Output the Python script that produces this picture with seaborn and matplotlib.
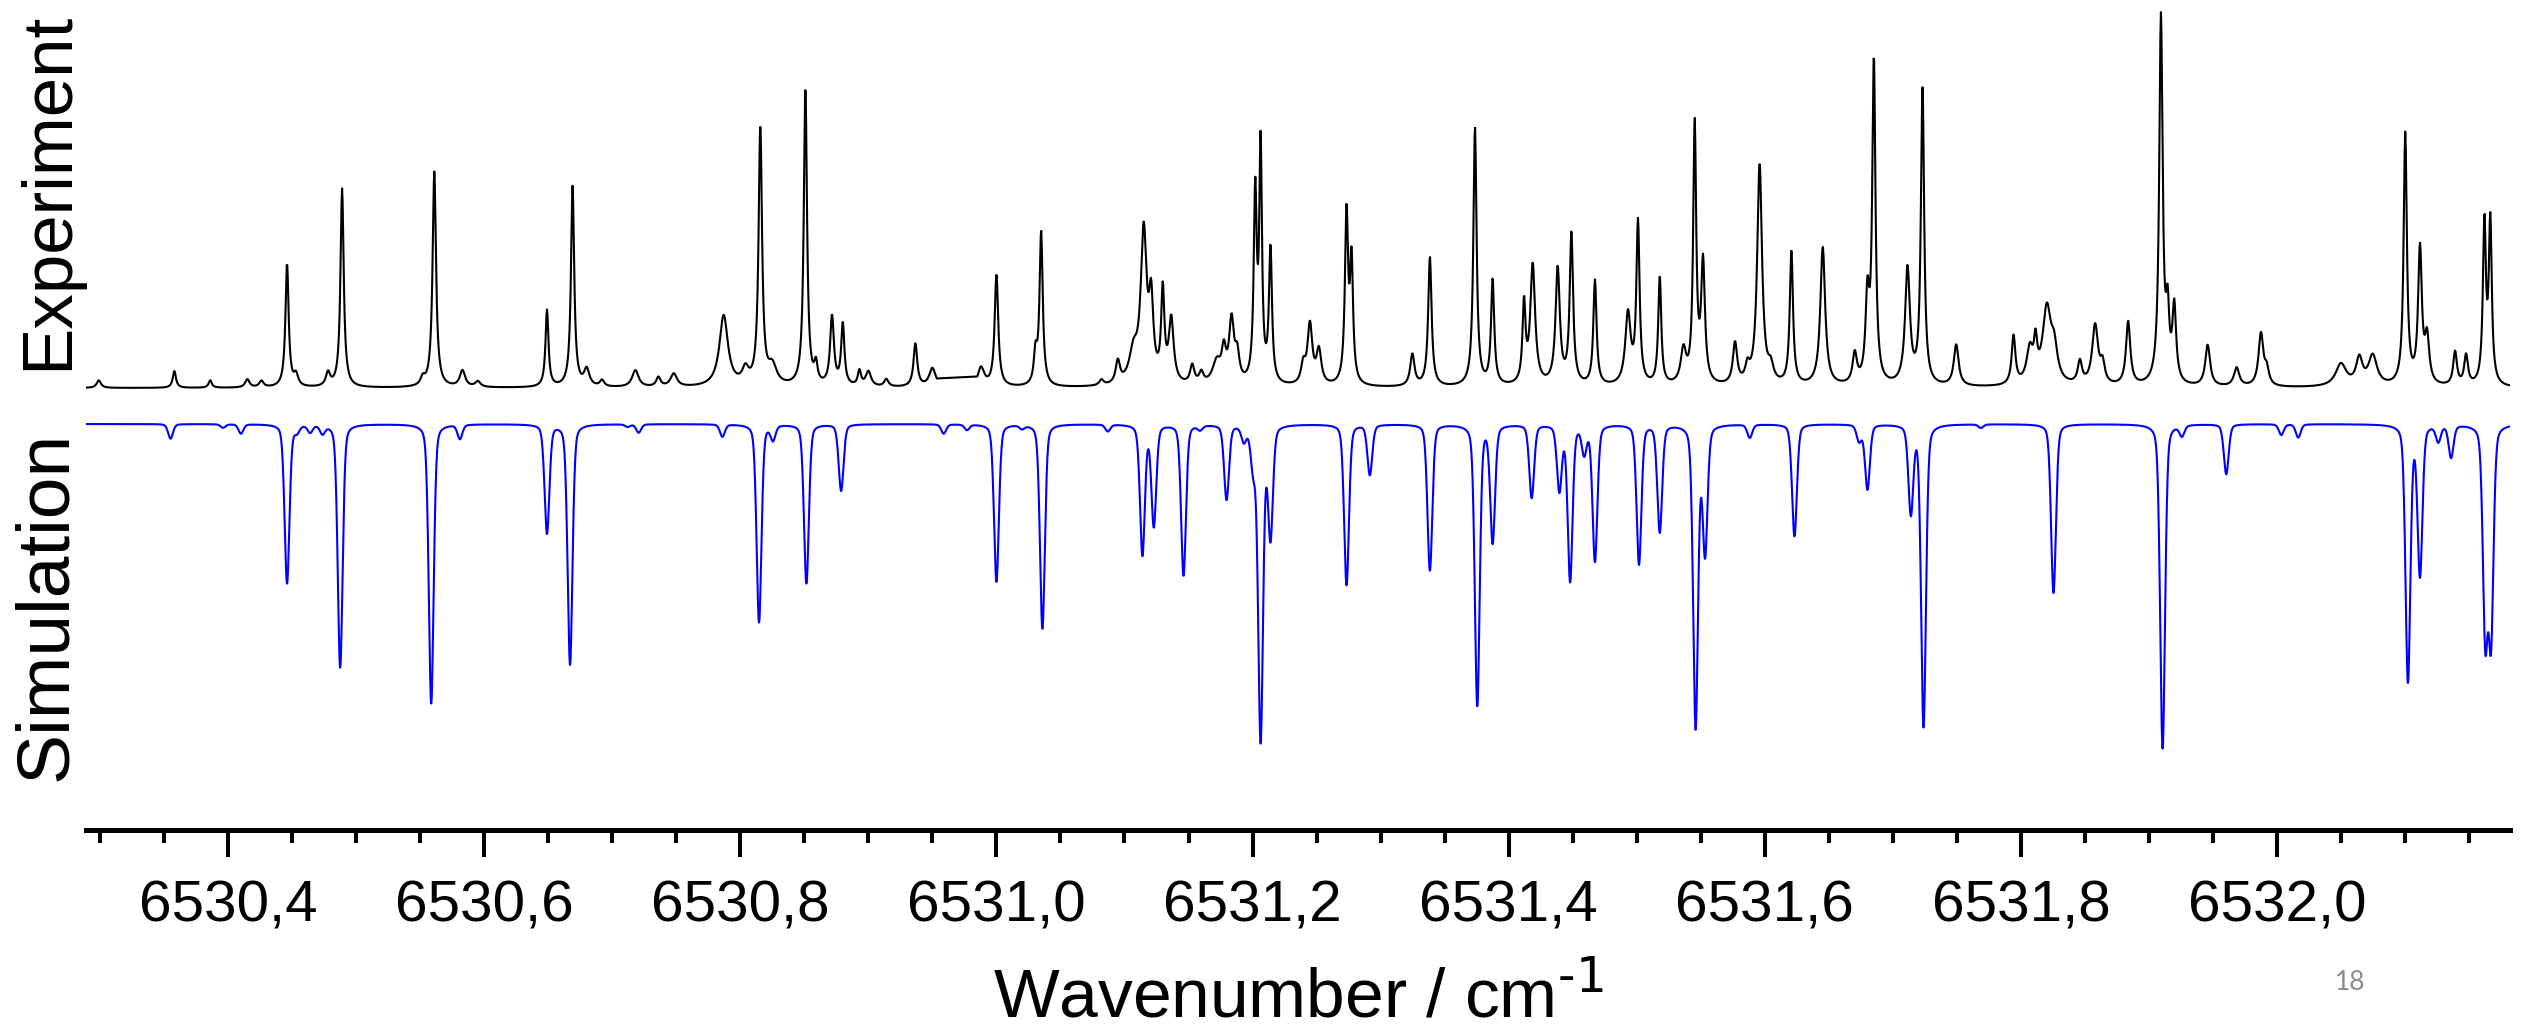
import numpy as np
import pandas as pd
import matplotlib
matplotlib.use("Agg")
import matplotlib.pyplot as plt
from matplotlib.ticker import MultipleLocator, FuncFormatter
import seaborn as sns

# ---------------- data ----------------
# Experimental lines: position (cm-1), relative intensity, line width (cm-1)
exp_pos = [6530.299, 6530.358, 6530.386, 6530.415, 6530.426, 6530.446, 6530.453, 6530.478,
           6530.489, 6530.552, 6530.561, 6530.583, 6530.595,
           6530.649, 6530.669, 6530.680, 6530.692, 6530.718, 6530.736, 6530.748, 6530.787,
           6530.804, 6530.8156, 6530.825, 6530.8508, 6530.859, 6530.8716, 6530.880, 6530.893,
           6530.900, 6530.914, 6530.9367, 6530.950, 6530.988,
           6531.000, 6531.0305, 6531.0349, 6531.082, 6531.0948, 6531.107, 6531.115, 6531.1208,
           6531.1299, 6531.1365, 6531.1529, 6531.160, 6531.172, 6531.1776, 6531.1836, 6531.188,
           6531.2021, 6531.2063, 6531.214, 6531.2396, 6531.2448, 6531.2518,
           6531.2734, 6531.2773, 6531.3248, 6531.3385, 6531.3737, 6531.3875, 6531.412, 6531.4188,
           6531.4383, 6531.449, 6531.4674, 6531.4932, 6531.501, 6531.518, 6531.5365, 6531.5453,
           6531.5518, 6531.5768,
           6531.5865, 6531.596, 6531.6047, 6531.6208, 6531.6453, 6531.6703, 6531.6802, 6531.6852,
           6531.7115, 6531.7232, 6531.7495, 6531.7943, 6531.807, 6531.8115, 6531.8203, 6531.826,
           6531.8461, 6531.858, 6531.8638, 6531.8838,
           6531.9094, 6531.9146, 6531.9198, 6531.9459, 6531.9685, 6531.9875, 6531.992, 6532.050,
           6532.0643, 6532.0748, 6532.1002, 6532.1117, 6532.1172, 6532.1391, 6532.1477, 6532.162,
           6532.1666]
exp_int = [0.02, 0.045, 0.02, 0.022, 0.017, 0.33, 0.03, 0.036,
           0.53, 0.02, 0.575, 0.044, 0.015,
           0.205, 0.535, 0.045, 0.017, 0.045, 0.025, 0.035, 0.19,
           0.04, 0.69, 0.05, 0.80, 0.05, 0.185, 0.165, 0.04,
           0.04, 0.02, 0.115, 0.05, 0.05,
           0.30, 0.08, 0.41, 0.015, 0.06, 0.08, 0.40, 0.20,
           0.24, 0.17, 0.05, 0.03, 0.06, 0.08, 0.165, 0.07,
           0.50, 0.62, 0.36, 0.05, 0.16, 0.09,
           0.45, 0.32, 0.085, 0.345, 0.69, 0.28, 0.21, 0.32,
           0.31, 0.40, 0.28, 0.19, 0.43, 0.29, 0.09, 0.69,
           0.32, 0.11,
           0.04, 0.59, 0.04, 0.36, 0.37, 0.08, 0.22, 0.86,
           0.31, 0.80, 0.11, 0.13, 0.09, 0.09, 0.20, 0.08,
           0.06, 0.16, 0.05, 0.17,
           0.98, 0.17, 0.20, 0.11, 0.05, 0.14, 0.04, 0.06,
           0.07, 0.08, 0.67, 0.36, 0.12, 0.09, 0.08, 0.43,
           0.43]
exp_width = [0.004, 0.003, 0.003, 0.004, 0.004, 0.003, 0.004, 0.004,
             0.003, 0.004, 0.0032, 0.005, 0.005,
             0.0028, 0.003, 0.005, 0.004, 0.006, 0.004, 0.006, 0.008,
             0.006, 0.0032, 0.008, 0.003, 0.003, 0.0035, 0.003, 0.003,
             0.005, 0.004, 0.0035, 0.006, 0.006,
             0.0033, 0.003, 0.003, 0.004, 0.004, 0.008, 0.0055, 0.004,
             0.003, 0.0045, 0.004, 0.004, 0.008, 0.004, 0.0045, 0.004,
             0.0028, 0.0025, 0.0028, 0.004, 0.0045, 0.0045,
             0.003, 0.0028, 0.004, 0.0032, 0.003, 0.003, 0.0028, 0.0045,
             0.004, 0.0032, 0.003, 0.005, 0.003, 0.0028, 0.005, 0.0028,
             0.0035, 0.004,
             0.004, 0.0045, 0.005, 0.003, 0.0045, 0.004, 0.0035, 0.003,
             0.0045, 0.003, 0.0045, 0.0035, 0.006, 0.003, 0.008, 0.006,
             0.004, 0.0055, 0.004, 0.004,
             0.0032, 0.003, 0.0035, 0.0045, 0.005, 0.0045, 0.004, 0.010,
             0.006, 0.008, 0.003, 0.0035, 0.004, 0.0035, 0.0035, 0.0028,
             0.0028]
# region without recorded experimental points (drawn as a straight segment)
exp_gap = (6530.9536, 6530.9849)

# Simulated lines: position (cm-1), relative intensity
sim_pos = [6530.355, 6530.396, 6530.410, 6530.446, 6530.4537, 6530.464, 6530.4737, 6530.4875,
           6530.5586, 6530.581, 6530.649, 6530.667, 6530.712, 6530.7206, 6530.786, 6530.8146,
           6530.8255, 6530.8516, 6530.8787, 6530.9588, 6530.977, 6531.000, 6531.020, 6531.0359,
           6531.087, 6531.114, 6531.1229, 6531.1461, 6531.159, 6531.1797, 6531.1932, 6531.2005,
           6531.2063, 6531.214, 6531.2734, 6531.2916, 6531.3385, 6531.3755, 6531.3875, 6531.418,
           6531.4396, 6531.448, 6531.459, 6531.4674, 6531.5018, 6531.518, 6531.546, 6531.5534,
           6531.5883, 6531.6232, 6531.6737, 6531.6802, 6531.7141, 6531.724, 6531.7688, 6531.8255,
           6531.9107, 6531.9258, 6531.9604, 6532.0034, 6532.0166, 6532.1023, 6532.1117, 6532.126,
           6532.136, 6532.1627, 6532.1672]
sim_int = [0.045, 0.011, 0.029, 0.49, 0.02, 0.023, 0.026, 0.75,
           0.86, 0.044, 0.335, 0.74, 0.008, 0.026, 0.038, 0.61,
           0.045, 0.49, 0.205, 0.029, 0.017, 0.485, 0.011, 0.63,
           0.021, 0.40, 0.31, 0.465, 0.014, 0.23, 0.045, 0.12,
           0.97, 0.34, 0.495, 0.155, 0.45, 0.865, 0.36, 0.225,
           0.20, 0.48, 0.085, 0.42, 0.43, 0.33, 0.93, 0.39,
           0.041, 0.345, 0.05, 0.20, 0.27, 0.93, 0.011, 0.52,
           1.0, 0.033, 0.154, 0.033, 0.041, 0.79, 0.46, 0.05,
           0.10, 0.64, 0.64]
sim_fwhm = 0.0045
sim_lorentz_frac = 0.3

x_min, x_max = 6530.289, 6532.182
tick_major, tick_minor = 0.2, 0.05

# ---------------- build the traces ----------------
def lorentz(x, x0, w):
    return 1.0 / (1.0 + ((x - x0) / (w / 2.0)) ** 2)

def gauss(x, x0, w):
    return np.exp(-4.0 * np.log(2.0) * ((x - x0) / w) ** 2)

x_exp = np.arange(x_min, x_max + 0.0004, 0.0004)
x_exp = x_exp[(x_exp < exp_gap[0]) | (x_exp > exp_gap[1])]
y_exp = np.zeros_like(x_exp)
for p, a, w in zip(exp_pos, exp_int, exp_width):
    y_exp += a * lorentz(x_exp, p, w)

x_sim = np.arange(x_min, x_max + 0.0002, 0.0002)
y_sim = np.zeros_like(x_sim)
for p, a in zip(sim_pos, sim_int):
    y_sim += a * (sim_lorentz_frac * lorentz(x_sim, p, sim_fwhm)
                  + (1 - sim_lorentz_frac) * gauss(x_sim, p, sim_fwhm))

sim_offset = -0.096
sim_scale = 0.866

df_exp = pd.DataFrame({"wn": x_exp, "I": y_exp})
df_sim = pd.DataFrame({"wn": x_sim, "I": sim_offset - sim_scale * y_sim})

# ---------------- plot ----------------
sns.set_style("white")
plt.rcParams["font.family"] = ["Liberation Sans", "DejaVu Sans"]
plt.rcParams["mathtext.default"] = "regular"
plt.rcParams["text.color"] = "black"
plt.rcParams["axes.labelcolor"] = "black"
plt.rcParams["xtick.color"] = "black"
plt.rcParams["xtick.labelcolor"] = "black"

W, H = 2526, 1027
fig = plt.figure(figsize=(W / 100, H / 100), dpi=100)
ax = fig.add_axes([86 / W, 1 - 830 / H, (2510 - 86) / W, 830 / H])

sns.lineplot(data=df_exp, x="wn", y="I", ax=ax, color="black", lw=1.5,
             estimator=None, sort=False)
sns.lineplot(data=df_sim, x="wn", y="I", ax=ax, color="#0000ff", lw=1.5,
             estimator=None, sort=False)

ax.set_xlim(x_min, x_max)
ax.set_ylim(-(830 - 388) / 375, 388 / 375)

for s in ["left", "right", "top"]:
    ax.spines[s].set_visible(False)
ax.spines["bottom"].set_linewidth(3.6)
ax.spines["bottom"].set_color("black")

ax.xaxis.set_major_locator(MultipleLocator(tick_major))
ax.xaxis.set_minor_locator(MultipleLocator(tick_minor))
ax.xaxis.set_major_formatter(FuncFormatter(lambda v, _: f"{v:.1f}".replace(".", ",")))
ax.tick_params(axis="x", which="major", direction="out", length=19.5, width=2.9,
               labelsize=42, pad=16, color="black", labelcolor="black", bottom=True)
ax.tick_params(axis="x", which="minor", direction="out", length=9.5, width=2.9,
               color="black", bottom=True)
ax.set_yticks([])
ax.set_ylabel("")

ax.set_xlabel(r"Wavenumber / cm$^{\text{-1}}$", fontsize=50, va="baseline", color="black")
ax.xaxis.set_label_coords(0.5, -(1017 - 830) / 830)

fig.text(49 / W, 1 - 191 / H, "Experiment", rotation=90, fontsize=51,
         ha="center", va="center", color="black")
fig.text(47 / W, 1 - 606 / H, "Simulation", rotation=90, fontsize=54,
         ha="center", va="center", color="black")
fig.text(2350 / W, 1 - 982 / H, "18", fontsize=19, color="#8c8c8c",
         ha="center", va="center", family=["Lato", "DejaVu Sans"])

fig.savefig("out.png", dpi=100, facecolor="white")
